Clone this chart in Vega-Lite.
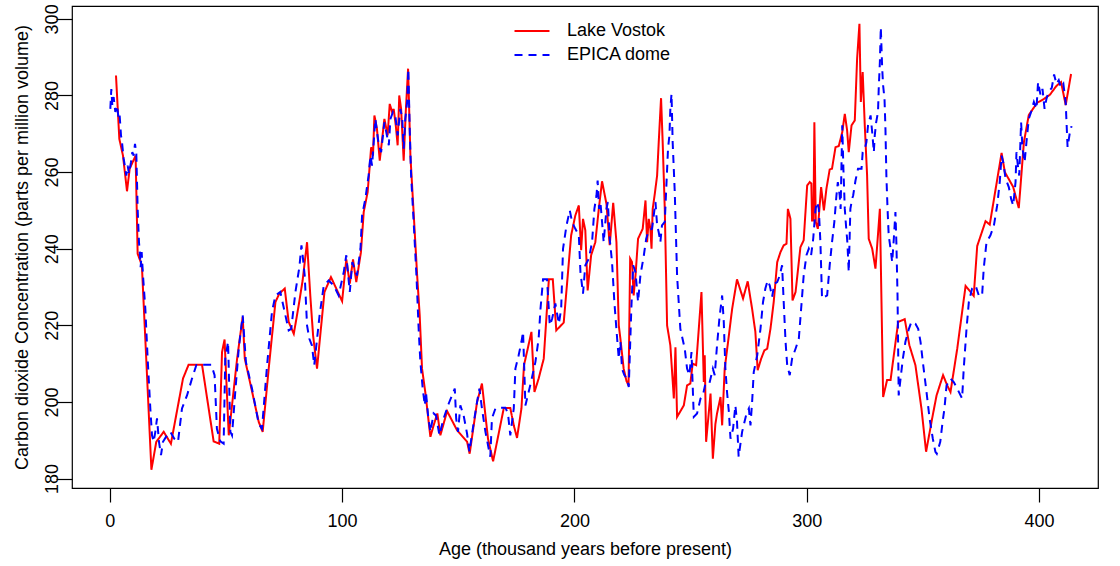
{
  "$schema": "https://vega.github.io/schema/vega-lite/v6.json",
  "width": 1026,
  "height": 482,
  "autosize": "none",
  "padding": {"left": 72, "top": 6, "right": 22, "bottom": 78},
  "background": "white",
  "config": {
    "view": {"stroke": "black", "strokeWidth": 1.2},
    "axis": {
      "domain": false, "grid": false,
      "tickColor": "black", "tickWidth": 1.2,
      "labelColor": "black", "titleColor": "black",
      "labelFont": "Liberation Sans", "titleFont": "Liberation Sans",
      "labelFontSize": 18, "titleFontSize": 18, "titleFontWeight": "normal",
      "labelFlush": false, "labelOverlap": false
    },
    "legend": {
      "labelFont": "Liberation Sans", "labelFontSize": 18, "labelColor": "black",
      "padding": 0, "rowPadding": 6, "symbolStrokeWidth": 2
    }
  },
  "data": {"name": "co2"},
  "datasets": {
    "co2": [
      {"s":"Lake Vostok","x":2.66,"y":285.2},{"s":"Lake Vostok","x":4.09,"y":268.7},{"s":"Lake Vostok","x":5.67,"y":264.3},{"s":"Lake Vostok","x":7.4,"y":255.0},{"s":"Lake Vostok","x":8.55,"y":260.9},{"s":"Lake Vostok","x":11.1,"y":264.3},{"s":"Lake Vostok","x":11.98,"y":238.7},{"s":"Lake Vostok","x":13.8,"y":235.7},{"s":"Lake Vostok","x":17.9,"y":182.3},{"s":"Lake Vostok","x":20.0,"y":189.6},{"s":"Lake Vostok","x":23.2,"y":192.2},{"s":"Lake Vostok","x":26.3,"y":189.1},{"s":"Lake Vostok","x":31.5,"y":206.1},{"s":"Lake Vostok","x":33.9,"y":209.7},{"s":"Lake Vostok","x":39.7,"y":209.7},{"s":"Lake Vostok","x":44.7,"y":189.7},{"s":"Lake Vostok","x":47.1,"y":189.1},{"s":"Lake Vostok","x":48.3,"y":213.0},{"s":"Lake Vostok","x":49.4,"y":216.3},{"s":"Lake Vostok","x":51.2,"y":191.3},{"s":"Lake Vostok","x":52.6,"y":199.1},{"s":"Lake Vostok","x":54.8,"y":211.3},{"s":"Lake Vostok","x":57.2,"y":222.2},{"s":"Lake Vostok","x":58.1,"y":211.3},{"s":"Lake Vostok","x":61.9,"y":200.9},{"s":"Lake Vostok","x":64.1,"y":194.8},{"s":"Lake Vostok","x":65.8,"y":192.2},{"s":"Lake Vostok","x":68.4,"y":208.7},{"s":"Lake Vostok","x":71.3,"y":226.1},{"s":"Lake Vostok","x":73.0,"y":228.3},{"s":"Lake Vostok","x":75.3,"y":229.6},{"s":"Lake Vostok","x":77.0,"y":220.9},{"s":"Lake Vostok","x":79.2,"y":217.8},{"s":"Lake Vostok","x":81.3,"y":225.2},{"s":"Lake Vostok","x":83.0,"y":231.7},{"s":"Lake Vostok","x":84.9,"y":241.7},{"s":"Lake Vostok","x":86.3,"y":227.8},{"s":"Lake Vostok","x":87.5,"y":217.4},{"s":"Lake Vostok","x":89.2,"y":208.7},{"s":"Lake Vostok","x":92.4,"y":228.7},{"s":"Lake Vostok","x":95.2,"y":232.6},{"s":"Lake Vostok","x":100.0,"y":226.3},{"s":"Lake Vostok","x":101.8,"y":237.2},{"s":"Lake Vostok","x":103.3,"y":230.9},{"s":"Lake Vostok","x":104.7,"y":237.2},{"s":"Lake Vostok","x":106.1,"y":231.3},{"s":"Lake Vostok","x":108.1,"y":239.1},{"s":"Lake Vostok","x":109.3,"y":249.6},{"s":"Lake Vostok","x":111.0,"y":254.8},{"s":"Lake Vostok","x":112.5,"y":266.5},{"s":"Lake Vostok","x":113.3,"y":264.3},{"s":"Lake Vostok","x":113.9,"y":274.8},{"s":"Lake Vostok","x":115.0,"y":271.3},{"s":"Lake Vostok","x":116.2,"y":263.0},{"s":"Lake Vostok","x":118.2,"y":273.9},{"s":"Lake Vostok","x":119.6,"y":269.6},{"s":"Lake Vostok","x":120.5,"y":277.8},{"s":"Lake Vostok","x":121.5,"y":275.7},{"s":"Lake Vostok","x":122.2,"y":276.5},{"s":"Lake Vostok","x":123.1,"y":272.2},{"s":"Lake Vostok","x":123.9,"y":267.0},{"s":"Lake Vostok","x":124.6,"y":280.0},{"s":"Lake Vostok","x":125.4,"y":276.5},{"s":"Lake Vostok","x":126.5,"y":263.0},{"s":"Lake Vostok","x":127.4,"y":275.7},{"s":"Lake Vostok","x":128.4,"y":287.0},{"s":"Lake Vostok","x":129.4,"y":264.3},{"s":"Lake Vostok","x":131.1,"y":246.1},{"s":"Lake Vostok","x":132.3,"y":233.0},{"s":"Lake Vostok","x":133.4,"y":222.6},{"s":"Lake Vostok","x":134.4,"y":208.7},{"s":"Lake Vostok","x":135.8,"y":202.6},{"s":"Lake Vostok","x":138.0,"y":190.9},{"s":"Lake Vostok","x":139.4,"y":193.9},{"s":"Lake Vostok","x":141.0,"y":197.0},{"s":"Lake Vostok","x":142.3,"y":191.3},{"s":"Lake Vostok","x":145.2,"y":197.6},{"s":"Lake Vostok","x":149.5,"y":192.6},{"s":"Lake Vostok","x":153.8,"y":189.6},{"s":"Lake Vostok","x":154.9,"y":186.5},{"s":"Lake Vostok","x":158.1,"y":200.0},{"s":"Lake Vostok","x":160.2,"y":204.8},{"s":"Lake Vostok","x":162.8,"y":190.4},{"s":"Lake Vostok","x":165.0,"y":184.5},{"s":"Lake Vostok","x":169.6,"y":198.4},{"s":"Lake Vostok","x":172.4,"y":198.4},{"s":"Lake Vostok","x":173.9,"y":193.9},{"s":"Lake Vostok","x":175.3,"y":190.6},{"s":"Lake Vostok","x":177.2,"y":198.3},{"s":"Lake Vostok","x":178.3,"y":209.6},{"s":"Lake Vostok","x":179.9,"y":213.9},{"s":"Lake Vostok","x":181.5,"y":218.3},{"s":"Lake Vostok","x":182.8,"y":202.6},{"s":"Lake Vostok","x":184.6,"y":206.1},{"s":"Lake Vostok","x":186.8,"y":211.3},{"s":"Lake Vostok","x":189.0,"y":232.0},{"s":"Lake Vostok","x":190.7,"y":232.0},{"s":"Lake Vostok","x":192.2,"y":218.7},{"s":"Lake Vostok","x":195.4,"y":220.7},{"s":"Lake Vostok","x":198.6,"y":243.5},{"s":"Lake Vostok","x":200.4,"y":248.7},{"s":"Lake Vostok","x":201.9,"y":251.3},{"s":"Lake Vostok","x":202.9,"y":239.6},{"s":"Lake Vostok","x":203.7,"y":247.8},{"s":"Lake Vostok","x":204.7,"y":244.8},{"s":"Lake Vostok","x":205.7,"y":229.1},{"s":"Lake Vostok","x":207.2,"y":238.3},{"s":"Lake Vostok","x":209.0,"y":241.7},{"s":"Lake Vostok","x":210.5,"y":250.4},{"s":"Lake Vostok","x":211.9,"y":257.6},{"s":"Lake Vostok","x":213.8,"y":251.7},{"s":"Lake Vostok","x":215.2,"y":240.9},{"s":"Lake Vostok","x":216.7,"y":252.0},{"s":"Lake Vostok","x":218.1,"y":241.7},{"s":"Lake Vostok","x":219.1,"y":220.0},{"s":"Lake Vostok","x":219.8,"y":216.5},{"s":"Lake Vostok","x":221.2,"y":208.7},{"s":"Lake Vostok","x":222.4,"y":205.5},{"s":"Lake Vostok","x":223.3,"y":204.3},{"s":"Lake Vostok","x":224.0,"y":237.4},{"s":"Lake Vostok","x":224.8,"y":236.5},{"s":"Lake Vostok","x":225.5,"y":227.8},{"s":"Lake Vostok","x":226.3,"y":233.0},{"s":"Lake Vostok","x":227.4,"y":242.6},{"s":"Lake Vostok","x":229.4,"y":245.2},{"s":"Lake Vostok","x":230.6,"y":252.6},{"s":"Lake Vostok","x":231.3,"y":241.7},{"s":"Lake Vostok","x":232.0,"y":247.8},{"s":"Lake Vostok","x":232.7,"y":245.2},{"s":"Lake Vostok","x":233.2,"y":240.0},{"s":"Lake Vostok","x":233.7,"y":250.4},{"s":"Lake Vostok","x":234.6,"y":254.3},{"s":"Lake Vostok","x":235.6,"y":259.1},{"s":"Lake Vostok","x":236.3,"y":267.8},{"s":"Lake Vostok","x":237.3,"y":279.3},{"s":"Lake Vostok","x":238.0,"y":267.8},{"s":"Lake Vostok","x":238.9,"y":250.4},{"s":"Lake Vostok","x":239.9,"y":220.0},{"s":"Lake Vostok","x":241.3,"y":214.8},{"s":"Lake Vostok","x":242.8,"y":200.9},{"s":"Lake Vostok","x":243.5,"y":214.3},{"s":"Lake Vostok","x":244.2,"y":196.1},{"s":"Lake Vostok","x":247.1,"y":199.1},{"s":"Lake Vostok","x":248.5,"y":204.3},{"s":"Lake Vostok","x":249.9,"y":204.8},{"s":"Lake Vostok","x":250.9,"y":210.0},{"s":"Lake Vostok","x":252.4,"y":209.6},{"s":"Lake Vostok","x":254.7,"y":228.7},{"s":"Lake Vostok","x":255.7,"y":205.2},{"s":"Lake Vostok","x":256.1,"y":212.2},{"s":"Lake Vostok","x":256.7,"y":189.6},{"s":"Lake Vostok","x":258.6,"y":202.2},{"s":"Lake Vostok","x":259.6,"y":185.2},{"s":"Lake Vostok","x":260.7,"y":194.3},{"s":"Lake Vostok","x":261.4,"y":197.0},{"s":"Lake Vostok","x":262.9,"y":201.3},{"s":"Lake Vostok","x":263.6,"y":193.9},{"s":"Lake Vostok","x":264.7,"y":208.7},{"s":"Lake Vostok","x":266.5,"y":217.4},{"s":"Lake Vostok","x":267.9,"y":224.3},{"s":"Lake Vostok","x":270.0,"y":232.0},{"s":"Lake Vostok","x":272.6,"y":227.0},{"s":"Lake Vostok","x":274.6,"y":231.5},{"s":"Lake Vostok","x":276.5,"y":224.3},{"s":"Lake Vostok","x":277.9,"y":218.3},{"s":"Lake Vostok","x":278.9,"y":208.3},{"s":"Lake Vostok","x":280.4,"y":211.3},{"s":"Lake Vostok","x":281.8,"y":213.5},{"s":"Lake Vostok","x":283.0,"y":213.9},{"s":"Lake Vostok","x":284.4,"y":219.1},{"s":"Lake Vostok","x":285.8,"y":226.1},{"s":"Lake Vostok","x":287.3,"y":236.5},{"s":"Lake Vostok","x":288.7,"y":239.1},{"s":"Lake Vostok","x":290.1,"y":240.9},{"s":"Lake Vostok","x":291.3,"y":241.3},{"s":"Lake Vostok","x":291.9,"y":250.4},{"s":"Lake Vostok","x":293.0,"y":247.8},{"s":"Lake Vostok","x":293.9,"y":226.5},{"s":"Lake Vostok","x":295.2,"y":228.7},{"s":"Lake Vostok","x":297.3,"y":240.4},{"s":"Lake Vostok","x":298.7,"y":242.2},{"s":"Lake Vostok","x":300.2,"y":256.5},{"s":"Lake Vostok","x":301.3,"y":257.4},{"s":"Lake Vostok","x":302.0,"y":257.0},{"s":"Lake Vostok","x":302.3,"y":247.4},{"s":"Lake Vostok","x":302.9,"y":247.4},{"s":"Lake Vostok","x":303.3,"y":273.0},{"s":"Lake Vostok","x":303.9,"y":247.0},{"s":"Lake Vostok","x":304.8,"y":245.2},{"s":"Lake Vostok","x":306.2,"y":256.1},{"s":"Lake Vostok","x":307.4,"y":250.0},{"s":"Lake Vostok","x":308.5,"y":255.7},{"s":"Lake Vostok","x":309.9,"y":260.7},{"s":"Lake Vostok","x":310.9,"y":260.9},{"s":"Lake Vostok","x":312.4,"y":266.5},{"s":"Lake Vostok","x":313.8,"y":266.8},{"s":"Lake Vostok","x":315.3,"y":270.4},{"s":"Lake Vostok","x":316.4,"y":275.2},{"s":"Lake Vostok","x":317.4,"y":270.9},{"s":"Lake Vostok","x":318.1,"y":265.2},{"s":"Lake Vostok","x":319.3,"y":272.2},{"s":"Lake Vostok","x":320.7,"y":273.5},{"s":"Lake Vostok","x":321.7,"y":289.6},{"s":"Lake Vostok","x":322.7,"y":298.7},{"s":"Lake Vostok","x":323.3,"y":278.3},{"s":"Lake Vostok","x":324.1,"y":286.1},{"s":"Lake Vostok","x":325.0,"y":272.2},{"s":"Lake Vostok","x":326.0,"y":259.1},{"s":"Lake Vostok","x":326.7,"y":242.6},{"s":"Lake Vostok","x":328.2,"y":240.0},{"s":"Lake Vostok","x":329.6,"y":234.8},{"s":"Lake Vostok","x":331.5,"y":250.4},{"s":"Lake Vostok","x":332.9,"y":201.3},{"s":"Lake Vostok","x":334.6,"y":205.7},{"s":"Lake Vostok","x":336.1,"y":205.7},{"s":"Lake Vostok","x":337.5,"y":212.2},{"s":"Lake Vostok","x":339.4,"y":220.9},{"s":"Lake Vostok","x":342.2,"y":221.6},{"s":"Lake Vostok","x":344.2,"y":214.8},{"s":"Lake Vostok","x":346.8,"y":209.6},{"s":"Lake Vostok","x":349.4,"y":198.3},{"s":"Lake Vostok","x":351.4,"y":187.0},{"s":"Lake Vostok","x":354.0,"y":195.7},{"s":"Lake Vostok","x":355.9,"y":201.7},{"s":"Lake Vostok","x":358.7,"y":207.0},{"s":"Lake Vostok","x":360.5,"y":204.3},{"s":"Lake Vostok","x":361.9,"y":202.6},{"s":"Lake Vostok","x":364.8,"y":213.9},{"s":"Lake Vostok","x":368.4,"y":230.3},{"s":"Lake Vostok","x":371.9,"y":227.7},{"s":"Lake Vostok","x":373.4,"y":240.7},{"s":"Lake Vostok","x":377.0,"y":247.2},{"s":"Lake Vostok","x":378.8,"y":246.3},{"s":"Lake Vostok","x":383.9,"y":265.0},{"s":"Lake Vostok","x":385.3,"y":260.0},{"s":"Lake Vostok","x":388.9,"y":256.1},{"s":"Lake Vostok","x":391.3,"y":250.6},{"s":"Lake Vostok","x":393.5,"y":267.8},{"s":"Lake Vostok","x":395.6,"y":274.9},{"s":"Lake Vostok","x":399.2,"y":278.1},{"s":"Lake Vostok","x":402.1,"y":279.1},{"s":"Lake Vostok","x":404.7,"y":280.2},{"s":"Lake Vostok","x":407.5,"y":282.5},{"s":"Lake Vostok","x":409.5,"y":283.5},{"s":"Lake Vostok","x":411.5,"y":277.5},{"s":"Lake Vostok","x":413.8,"y":285.6},
      {"s":"EPICA dome","x":0.22,"y":276.5},{"s":"EPICA dome","x":0.65,"y":281.7},{"s":"EPICA dome","x":1.08,"y":277.4},{"s":"EPICA dome","x":1.65,"y":279.6},{"s":"EPICA dome","x":2.37,"y":275.7},{"s":"EPICA dome","x":3.09,"y":277.4},{"s":"EPICA dome","x":3.8,"y":273.9},{"s":"EPICA dome","x":4.23,"y":274.8},{"s":"EPICA dome","x":4.81,"y":269.6},{"s":"EPICA dome","x":5.24,"y":267.8},{"s":"EPICA dome","x":5.96,"y":263.5},{"s":"EPICA dome","x":6.67,"y":260.9},{"s":"EPICA dome","x":7.1,"y":259.1},{"s":"EPICA dome","x":7.68,"y":261.7},{"s":"EPICA dome","x":8.25,"y":259.6},{"s":"EPICA dome","x":9.11,"y":262.6},{"s":"EPICA dome","x":9.69,"y":265.2},{"s":"EPICA dome","x":10.26,"y":264.3},{"s":"EPICA dome","x":10.84,"y":267.4},{"s":"EPICA dome","x":11.41,"y":264.8},{"s":"EPICA dome","x":11.98,"y":250.4},{"s":"EPICA dome","x":12.56,"y":241.7},{"s":"EPICA dome","x":12.99,"y":238.3},{"s":"EPICA dome","x":13.28,"y":235.2},{"s":"EPICA dome","x":13.71,"y":239.1},{"s":"EPICA dome","x":14.28,"y":233.0},{"s":"EPICA dome","x":15.29,"y":224.3},{"s":"EPICA dome","x":16.29,"y":211.3},{"s":"EPICA dome","x":17.44,"y":198.3},{"s":"EPICA dome","x":18.16,"y":191.3},{"s":"EPICA dome","x":18.87,"y":189.6},{"s":"EPICA dome","x":19.59,"y":192.2},{"s":"EPICA dome","x":20.31,"y":195.7},{"s":"EPICA dome","x":21.17,"y":189.6},{"s":"EPICA dome","x":22.03,"y":186.1},{"s":"EPICA dome","x":22.89,"y":189.6},{"s":"EPICA dome","x":24.61,"y":191.3},{"s":"EPICA dome","x":26.05,"y":192.2},{"s":"EPICA dome","x":27.77,"y":190.4},{"s":"EPICA dome","x":29.35,"y":189.6},{"s":"EPICA dome","x":31.07,"y":198.3},{"s":"EPICA dome","x":33.23,"y":201.7},{"s":"EPICA dome","x":35.38,"y":206.1},{"s":"EPICA dome","x":37.24,"y":209.6},{"s":"EPICA dome","x":38.97,"y":209.7},{"s":"EPICA dome","x":42.12,"y":209.7},{"s":"EPICA dome","x":43.7,"y":209.7},{"s":"EPICA dome","x":45.1,"y":207.0},{"s":"EPICA dome","x":46.1,"y":193.0},{"s":"EPICA dome","x":47.6,"y":189.7},{"s":"EPICA dome","x":49.0,"y":189.1},{"s":"EPICA dome","x":49.7,"y":211.3},{"s":"EPICA dome","x":50.9,"y":215.7},{"s":"EPICA dome","x":51.9,"y":192.2},{"s":"EPICA dome","x":52.6,"y":191.3},{"s":"EPICA dome","x":54.0,"y":202.6},{"s":"EPICA dome","x":55.5,"y":213.9},{"s":"EPICA dome","x":57.2,"y":222.6},{"s":"EPICA dome","x":58.6,"y":210.4},{"s":"EPICA dome","x":61.2,"y":203.5},{"s":"EPICA dome","x":64.1,"y":194.3},{"s":"EPICA dome","x":65.5,"y":193.0},{"s":"EPICA dome","x":67.7,"y":209.6},{"s":"EPICA dome","x":69.8,"y":223.5},{"s":"EPICA dome","x":71.3,"y":227.8},{"s":"EPICA dome","x":73.4,"y":228.7},{"s":"EPICA dome","x":75.6,"y":222.6},{"s":"EPICA dome","x":77.0,"y":218.7},{"s":"EPICA dome","x":78.1,"y":219.1},{"s":"EPICA dome","x":79.9,"y":228.7},{"s":"EPICA dome","x":81.6,"y":235.2},{"s":"EPICA dome","x":82.5,"y":240.9},{"s":"EPICA dome","x":83.0,"y":238.3},{"s":"EPICA dome","x":83.9,"y":233.0},{"s":"EPICA dome","x":84.9,"y":220.0},{"s":"EPICA dome","x":85.9,"y":216.5},{"s":"EPICA dome","x":87.0,"y":214.8},{"s":"EPICA dome","x":88.0,"y":209.6},{"s":"EPICA dome","x":90.3,"y":222.6},{"s":"EPICA dome","x":92.1,"y":230.4},{"s":"EPICA dome","x":94.2,"y":231.7},{"s":"EPICA dome","x":96.4,"y":230.4},{"s":"EPICA dome","x":98.5,"y":227.8},{"s":"EPICA dome","x":100.7,"y":233.9},{"s":"EPICA dome","x":101.8,"y":238.3},{"s":"EPICA dome","x":103.3,"y":228.7},{"s":"EPICA dome","x":104.4,"y":236.5},{"s":"EPICA dome","x":106.4,"y":233.0},{"s":"EPICA dome","x":107.9,"y":240.0},{"s":"EPICA dome","x":108.6,"y":248.7},{"s":"EPICA dome","x":110.0,"y":253.0},{"s":"EPICA dome","x":111.4,"y":259.1},{"s":"EPICA dome","x":112.2,"y":264.3},{"s":"EPICA dome","x":112.9,"y":261.7},{"s":"EPICA dome","x":114.3,"y":273.9},{"s":"EPICA dome","x":115.8,"y":267.0},{"s":"EPICA dome","x":116.8,"y":265.2},{"s":"EPICA dome","x":118.2,"y":273.0},{"s":"EPICA dome","x":120.1,"y":267.0},{"s":"EPICA dome","x":120.8,"y":273.9},{"s":"EPICA dome","x":121.9,"y":275.7},{"s":"EPICA dome","x":122.9,"y":274.8},{"s":"EPICA dome","x":123.9,"y":269.6},{"s":"EPICA dome","x":125.1,"y":276.5},{"s":"EPICA dome","x":125.9,"y":273.9},{"s":"EPICA dome","x":126.5,"y":266.1},{"s":"EPICA dome","x":127.2,"y":273.9},{"s":"EPICA dome","x":128.0,"y":278.3},{"s":"EPICA dome","x":128.5,"y":287.0},{"s":"EPICA dome","x":129.1,"y":271.3},{"s":"EPICA dome","x":129.7,"y":259.1},{"s":"EPICA dome","x":130.8,"y":247.0},{"s":"EPICA dome","x":132.0,"y":233.0},{"s":"EPICA dome","x":133.0,"y":218.3},{"s":"EPICA dome","x":133.7,"y":210.4},{"s":"EPICA dome","x":134.7,"y":203.5},{"s":"EPICA dome","x":135.6,"y":199.1},{"s":"EPICA dome","x":136.1,"y":202.6},{"s":"EPICA dome","x":137.0,"y":196.5},{"s":"EPICA dome","x":138.0,"y":192.2},{"s":"EPICA dome","x":139.4,"y":197.0},{"s":"EPICA dome","x":140.4,"y":196.5},{"s":"EPICA dome","x":141.9,"y":191.3},{"s":"EPICA dome","x":143.7,"y":195.7},{"s":"EPICA dome","x":145.9,"y":199.6},{"s":"EPICA dome","x":148.5,"y":203.5},{"s":"EPICA dome","x":149.1,"y":195.7},{"s":"EPICA dome","x":149.9,"y":192.2},{"s":"EPICA dome","x":150.9,"y":199.1},{"s":"EPICA dome","x":152.3,"y":196.5},{"s":"EPICA dome","x":153.8,"y":191.7},{"s":"EPICA dome","x":154.8,"y":187.0},{"s":"EPICA dome","x":156.7,"y":194.8},{"s":"EPICA dome","x":158.1,"y":200.0},{"s":"EPICA dome","x":159.1,"y":203.5},{"s":"EPICA dome","x":160.2,"y":198.3},{"s":"EPICA dome","x":161.7,"y":192.2},{"s":"EPICA dome","x":163.1,"y":187.8},{"s":"EPICA dome","x":163.8,"y":185.7},{"s":"EPICA dome","x":164.5,"y":195.7},{"s":"EPICA dome","x":166.0,"y":198.3},{"s":"EPICA dome","x":168.1,"y":198.5},{"s":"EPICA dome","x":170.3,"y":198.5},{"s":"EPICA dome","x":171.4,"y":197.0},{"s":"EPICA dome","x":172.4,"y":191.3},{"s":"EPICA dome","x":173.9,"y":198.3},{"s":"EPICA dome","x":174.6,"y":208.7},{"s":"EPICA dome","x":176.0,"y":212.2},{"s":"EPICA dome","x":177.2,"y":215.7},{"s":"EPICA dome","x":177.9,"y":218.3},{"s":"EPICA dome","x":178.5,"y":207.0},{"s":"EPICA dome","x":178.9,"y":199.1},{"s":"EPICA dome","x":180.3,"y":202.6},{"s":"EPICA dome","x":181.3,"y":205.2},{"s":"EPICA dome","x":183.2,"y":210.4},{"s":"EPICA dome","x":184.6,"y":216.5},{"s":"EPICA dome","x":185.4,"y":224.3},{"s":"EPICA dome","x":186.5,"y":232.0},{"s":"EPICA dome","x":188.2,"y":232.0},{"s":"EPICA dome","x":189.4,"y":220.0},{"s":"EPICA dome","x":190.4,"y":221.7},{"s":"EPICA dome","x":191.8,"y":225.7},{"s":"EPICA dome","x":193.3,"y":220.4},{"s":"EPICA dome","x":194.3,"y":224.3},{"s":"EPICA dome","x":195.1,"y":240.0},{"s":"EPICA dome","x":196.6,"y":246.1},{"s":"EPICA dome","x":198.0,"y":250.0},{"s":"EPICA dome","x":199.0,"y":247.0},{"s":"EPICA dome","x":200.4,"y":245.2},{"s":"EPICA dome","x":201.9,"y":243.5},{"s":"EPICA dome","x":202.6,"y":233.9},{"s":"EPICA dome","x":203.7,"y":228.3},{"s":"EPICA dome","x":204.7,"y":235.7},{"s":"EPICA dome","x":206.2,"y":237.4},{"s":"EPICA dome","x":207.6,"y":241.7},{"s":"EPICA dome","x":208.6,"y":250.4},{"s":"EPICA dome","x":209.5,"y":253.9},{"s":"EPICA dome","x":210.0,"y":257.8},{"s":"EPICA dome","x":210.6,"y":250.4},{"s":"EPICA dome","x":211.2,"y":252.2},{"s":"EPICA dome","x":211.9,"y":247.0},{"s":"EPICA dome","x":212.6,"y":241.7},{"s":"EPICA dome","x":213.8,"y":250.4},{"s":"EPICA dome","x":214.4,"y":252.2},{"s":"EPICA dome","x":215.2,"y":242.6},{"s":"EPICA dome","x":216.2,"y":236.5},{"s":"EPICA dome","x":217.2,"y":226.1},{"s":"EPICA dome","x":218.4,"y":216.5},{"s":"EPICA dome","x":219.1,"y":211.3},{"s":"EPICA dome","x":219.8,"y":215.7},{"s":"EPICA dome","x":220.5,"y":208.7},{"s":"EPICA dome","x":221.5,"y":207.0},{"s":"EPICA dome","x":222.7,"y":206.0},{"s":"EPICA dome","x":223.4,"y":203.9},{"s":"EPICA dome","x":224.5,"y":224.3},{"s":"EPICA dome","x":225.3,"y":235.7},{"s":"EPICA dome","x":226.3,"y":233.9},{"s":"EPICA dome","x":227.4,"y":226.1},{"s":"EPICA dome","x":228.4,"y":233.0},{"s":"EPICA dome","x":229.9,"y":238.3},{"s":"EPICA dome","x":230.9,"y":242.6},{"s":"EPICA dome","x":232.0,"y":244.8},{"s":"EPICA dome","x":233.4,"y":245.2},{"s":"EPICA dome","x":234.9,"y":252.2},{"s":"EPICA dome","x":235.6,"y":246.1},{"s":"EPICA dome","x":236.3,"y":244.3},{"s":"EPICA dome","x":237.0,"y":241.7},{"s":"EPICA dome","x":237.7,"y":246.1},{"s":"EPICA dome","x":238.9,"y":247.0},{"s":"EPICA dome","x":239.4,"y":253.9},{"s":"EPICA dome","x":240.3,"y":266.1},{"s":"EPICA dome","x":240.9,"y":269.6},{"s":"EPICA dome","x":241.3,"y":276.5},{"s":"EPICA dome","x":241.8,"y":280.4},{"s":"EPICA dome","x":242.3,"y":267.8},{"s":"EPICA dome","x":243.2,"y":254.8},{"s":"EPICA dome","x":244.2,"y":233.0},{"s":"EPICA dome","x":245.6,"y":219.1},{"s":"EPICA dome","x":247.5,"y":213.9},{"s":"EPICA dome","x":248.5,"y":208.7},{"s":"EPICA dome","x":249.5,"y":207.0},{"s":"EPICA dome","x":250.4,"y":213.0},{"s":"EPICA dome","x":251.4,"y":196.1},{"s":"EPICA dome","x":252.8,"y":197.0},{"s":"EPICA dome","x":254.3,"y":200.9},{"s":"EPICA dome","x":255.3,"y":201.7},{"s":"EPICA dome","x":256.4,"y":204.8},{"s":"EPICA dome","x":258.1,"y":204.8},{"s":"EPICA dome","x":259.6,"y":208.7},{"s":"EPICA dome","x":260.4,"y":207.0},{"s":"EPICA dome","x":261.4,"y":214.8},{"s":"EPICA dome","x":262.4,"y":221.7},{"s":"EPICA dome","x":263.6,"y":227.8},{"s":"EPICA dome","x":264.3,"y":220.9},{"s":"EPICA dome","x":265.0,"y":208.7},{"s":"EPICA dome","x":265.7,"y":202.6},{"s":"EPICA dome","x":266.5,"y":197.4},{"s":"EPICA dome","x":267.2,"y":190.4},{"s":"EPICA dome","x":268.3,"y":193.0},{"s":"EPICA dome","x":269.3,"y":199.1},{"s":"EPICA dome","x":270.0,"y":194.8},{"s":"EPICA dome","x":270.7,"y":185.7},{"s":"EPICA dome","x":272.2,"y":192.2},{"s":"EPICA dome","x":274.1,"y":197.0},{"s":"EPICA dome","x":275.1,"y":198.3},{"s":"EPICA dome","x":275.8,"y":193.9},{"s":"EPICA dome","x":276.5,"y":200.0},{"s":"EPICA dome","x":277.2,"y":207.8},{"s":"EPICA dome","x":278.7,"y":212.2},{"s":"EPICA dome","x":280.1,"y":219.1},{"s":"EPICA dome","x":281.2,"y":226.1},{"s":"EPICA dome","x":282.2,"y":229.6},{"s":"EPICA dome","x":283.2,"y":231.7},{"s":"EPICA dome","x":284.1,"y":230.4},{"s":"EPICA dome","x":285.1,"y":227.4},{"s":"EPICA dome","x":286.1,"y":230.9},{"s":"EPICA dome","x":287.3,"y":231.3},{"s":"EPICA dome","x":288.4,"y":233.0},{"s":"EPICA dome","x":289.4,"y":235.7},{"s":"EPICA dome","x":290.1,"y":226.1},{"s":"EPICA dome","x":290.9,"y":215.7},{"s":"EPICA dome","x":291.6,"y":209.6},{"s":"EPICA dome","x":292.7,"y":207.0},{"s":"EPICA dome","x":293.7,"y":211.3},{"s":"EPICA dome","x":295.2,"y":213.9},{"s":"EPICA dome","x":296.6,"y":216.5},{"s":"EPICA dome","x":297.6,"y":224.3},{"s":"EPICA dome","x":298.7,"y":233.0},{"s":"EPICA dome","x":299.9,"y":238.3},{"s":"EPICA dome","x":300.9,"y":240.0},{"s":"EPICA dome","x":301.9,"y":238.3},{"s":"EPICA dome","x":302.8,"y":242.6},{"s":"EPICA dome","x":303.8,"y":250.4},{"s":"EPICA dome","x":304.5,"y":252.2},{"s":"EPICA dome","x":305.2,"y":250.4},{"s":"EPICA dome","x":305.9,"y":241.7},{"s":"EPICA dome","x":306.6,"y":227.0},{"s":"EPICA dome","x":307.6,"y":227.4},{"s":"EPICA dome","x":308.8,"y":227.8},{"s":"EPICA dome","x":309.9,"y":235.7},{"s":"EPICA dome","x":310.9,"y":241.7},{"s":"EPICA dome","x":311.9,"y":247.0},{"s":"EPICA dome","x":312.8,"y":253.9},{"s":"EPICA dome","x":313.4,"y":257.4},{"s":"EPICA dome","x":314.2,"y":253.9},{"s":"EPICA dome","x":314.6,"y":250.4},{"s":"EPICA dome","x":315.3,"y":272.2},{"s":"EPICA dome","x":315.8,"y":260.9},{"s":"EPICA dome","x":316.4,"y":250.4},{"s":"EPICA dome","x":316.8,"y":247.0},{"s":"EPICA dome","x":317.5,"y":241.7},{"s":"EPICA dome","x":318.1,"y":233.9},{"s":"EPICA dome","x":318.8,"y":250.4},{"s":"EPICA dome","x":319.5,"y":252.9},{"s":"EPICA dome","x":320.0,"y":253.9},{"s":"EPICA dome","x":321.0,"y":257.8},{"s":"EPICA dome","x":322.1,"y":260.9},{"s":"EPICA dome","x":323.6,"y":260.9},{"s":"EPICA dome","x":324.1,"y":265.2},{"s":"EPICA dome","x":325.0,"y":266.1},{"s":"EPICA dome","x":325.7,"y":267.8},{"s":"EPICA dome","x":326.4,"y":272.2},{"s":"EPICA dome","x":327.5,"y":274.8},{"s":"EPICA dome","x":328.2,"y":270.4},{"s":"EPICA dome","x":328.9,"y":265.2},{"s":"EPICA dome","x":329.3,"y":269.6},{"s":"EPICA dome","x":329.9,"y":273.0},{"s":"EPICA dome","x":330.7,"y":275.7},{"s":"EPICA dome","x":331.0,"y":281.7},{"s":"EPICA dome","x":331.5,"y":288.7},{"s":"EPICA dome","x":331.9,"y":297.8},{"s":"EPICA dome","x":332.5,"y":287.0},{"s":"EPICA dome","x":332.9,"y":282.6},{"s":"EPICA dome","x":333.5,"y":279.1},{"s":"EPICA dome","x":333.9,"y":271.3},{"s":"EPICA dome","x":334.3,"y":259.1},{"s":"EPICA dome","x":334.8,"y":250.4},{"s":"EPICA dome","x":335.3,"y":243.5},{"s":"EPICA dome","x":336.1,"y":240.0},{"s":"EPICA dome","x":336.8,"y":236.5},{"s":"EPICA dome","x":337.5,"y":242.6},{"s":"EPICA dome","x":338.2,"y":249.6},{"s":"EPICA dome","x":338.6,"y":241.7},{"s":"EPICA dome","x":339.1,"y":227.8},{"s":"EPICA dome","x":339.6,"y":201.7},{"s":"EPICA dome","x":340.4,"y":206.1},{"s":"EPICA dome","x":341.4,"y":211.3},{"s":"EPICA dome","x":342.5,"y":215.7},{"s":"EPICA dome","x":344.0,"y":219.1},{"s":"EPICA dome","x":345.1,"y":220.9},{"s":"EPICA dome","x":346.8,"y":220.4},{"s":"EPICA dome","x":348.0,"y":219.1},{"s":"EPICA dome","x":349.0,"y":215.7},{"s":"EPICA dome","x":350.0,"y":210.4},{"s":"EPICA dome","x":351.4,"y":203.5},{"s":"EPICA dome","x":352.9,"y":195.7},{"s":"EPICA dome","x":354.3,"y":190.4},{"s":"EPICA dome","x":355.4,"y":187.0},{"s":"EPICA dome","x":356.0,"y":186.5},{"s":"EPICA dome","x":357.5,"y":189.6},{"s":"EPICA dome","x":358.5,"y":194.8},{"s":"EPICA dome","x":359.3,"y":198.3},{"s":"EPICA dome","x":360.2,"y":204.3},{"s":"EPICA dome","x":361.9,"y":206.1},{"s":"EPICA dome","x":363.3,"y":205.2},{"s":"EPICA dome","x":364.8,"y":203.5},{"s":"EPICA dome","x":366.9,"y":200.9},{"s":"EPICA dome","x":367.6,"y":208.7},{"s":"EPICA dome","x":368.8,"y":219.1},{"s":"EPICA dome","x":369.8,"y":226.1},{"s":"EPICA dome","x":371.2,"y":229.6},{"s":"EPICA dome","x":372.7,"y":230.4},{"s":"EPICA dome","x":374.1,"y":227.8},{"s":"EPICA dome","x":375.5,"y":227.7},{"s":"EPICA dome","x":376.2,"y":234.8},{"s":"EPICA dome","x":377.4,"y":241.7},{"s":"EPICA dome","x":379.1,"y":243.5},{"s":"EPICA dome","x":380.6,"y":246.1},{"s":"EPICA dome","x":382.0,"y":251.3},{"s":"EPICA dome","x":383.1,"y":257.4},{"s":"EPICA dome","x":383.9,"y":264.3},{"s":"EPICA dome","x":384.6,"y":262.6},{"s":"EPICA dome","x":385.6,"y":258.3},{"s":"EPICA dome","x":387.0,"y":256.1},{"s":"EPICA dome","x":388.0,"y":253.0},{"s":"EPICA dome","x":388.9,"y":251.3},{"s":"EPICA dome","x":389.9,"y":257.4},{"s":"EPICA dome","x":390.3,"y":265.2},{"s":"EPICA dome","x":390.9,"y":261.7},{"s":"EPICA dome","x":391.5,"y":259.1},{"s":"EPICA dome","x":392.3,"y":273.0},{"s":"EPICA dome","x":392.9,"y":266.1},{"s":"EPICA dome","x":393.8,"y":262.6},{"s":"EPICA dome","x":394.6,"y":267.8},{"s":"EPICA dome","x":395.6,"y":273.9},{"s":"EPICA dome","x":396.6,"y":275.7},{"s":"EPICA dome","x":397.8,"y":278.3},{"s":"EPICA dome","x":398.9,"y":276.5},{"s":"EPICA dome","x":399.6,"y":283.5},{"s":"EPICA dome","x":400.7,"y":280.0},{"s":"EPICA dome","x":401.5,"y":281.7},{"s":"EPICA dome","x":402.4,"y":276.5},{"s":"EPICA dome","x":403.2,"y":279.1},{"s":"EPICA dome","x":404.1,"y":280.9},{"s":"EPICA dome","x":405.5,"y":282.0},{"s":"EPICA dome","x":406.5,"y":285.5},{"s":"EPICA dome","x":407.5,"y":283.0},{"s":"EPICA dome","x":408.5,"y":284.0},{"s":"EPICA dome","x":409.5,"y":282.0},{"s":"EPICA dome","x":410.5,"y":283.0},{"s":"EPICA dome","x":411.5,"y":278.0},{"s":"EPICA dome","x":412.3,"y":266.5},{"s":"EPICA dome","x":413.2,"y":270.0},{"s":"EPICA dome","x":414.0,"y":272.0}
    ]
  },
  "mark": {"type": "line", "strokeWidth": 2, "clip": true},
  "encoding": {
    "x": {
      "field": "x", "type": "quantitative",
      "scale": {"domain": [-16.28, 425.4], "nice": false, "zero": false},
      "axis": {"values": [0, 100, 200, 300, 400], "title": "Age (thousand years before present)",
               "tickSize": 14, "labelPadding": 10, "titleY": 61, "titleBaseline": "middle"}
    },
    "y": {
      "field": "y", "type": "quantitative",
      "scale": {"domain": [177.54, 303.36], "nice": false, "zero": false},
      "axis": {"values": [180, 200, 220, 240, 260, 280, 300],
               "title": "Carbon dioxide Concentration (parts per million volume)",
               "tickSize": 16, "labelPadding": -1, "labelAngle": -90, "labelAlign": "center", "labelBaseline": "alphabetic",
               "titleX": -49.5, "titleY": 241, "titleAngle": -90, "titleAlign": "center", "titleBaseline": "middle"}
    },
    "color": {
      "field": "s", "type": "nominal",
      "scale": {"domain": ["Lake Vostok", "EPICA dome"], "range": ["#ff0000", "#0000ff"]},
      "legend": {"title": null, "orient": "none", "legendX": 451, "legendY": 16, "symbolType": "M-3,0H3", "symbolSize": 136, "labelOffset": 26}
    },
    "strokeDash": {
      "field": "s", "type": "nominal",
      "scale": {"domain": ["Lake Vostok", "EPICA dome"], "range": [[1, 0], [8, 6]]},
      "legend": {"title": null, "orient": "none", "legendX": 451, "legendY": 16, "symbolType": "M-3,0H3", "symbolSize": 136, "labelOffset": 26}
    }
  }
}
